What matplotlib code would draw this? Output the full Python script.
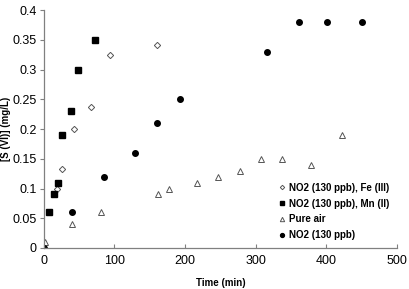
import numpy as np
import matplotlib.pyplot as plt

plt.rcParams['font.family'] = ['Liberation Sans', 'DejaVu Sans']

# NO2 (130 ppb), Fe (III)
fe_t = [18, 25, 43, 67, 94, 160]
fe_s = [0.10, 0.133, 0.20, 0.237, 0.324, 0.342]

# NO2 (130 ppb), Mn (II)
mn_t = [7, 14, 20, 26, 38, 48, 73]
mn_s = [0.06, 0.09, 0.11, 0.19, 0.23, 0.30, 0.35]

# Pure air
air_t = [1, 40, 81, 161, 177, 217, 247, 278, 307, 337, 378, 422]
air_s = [0.01, 0.04, 0.06, 0.09, 0.10, 0.11, 0.12, 0.13, 0.15, 0.15, 0.14, 0.19]

# NO2 (130 ppb)
no2_t = [0, 40, 85, 129, 160, 193, 316, 362, 401, 451]
no2_s = [0.0, 0.06, 0.12, 0.16, 0.21, 0.25, 0.33, 0.38, 0.38, 0.38]

fig = plt.figure(figsize=(4.1, 2.89), dpi=100)
ax = fig.add_axes([0.107, 0.142, 0.861, 0.823])

ax.plot(fe_t, fe_s, ls='none', marker='D', ms=3.2, mfc='white', mec='#555555',
        mew=0.7, label='NO2 (130 ppb), Fe (III)')
ax.plot(mn_t, mn_s, ls='none', marker='s', ms=5, color='black',
        label='NO2 (130 ppb), Mn (II)')
ax.plot(air_t, air_s, ls='none', marker='^', ms=4.5, mfc='white', mec='#555555',
        mew=0.7, label='Pure air')
ax.plot(no2_t, no2_s, ls='none', marker='o', ms=4, color='black',
        label='NO2 (130 ppb)')

ax.set_xlim(0, 500)
ax.set_ylim(0, 0.4)
ax.set_xticks(np.arange(0, 501, 100))
ax.set_yticks(np.arange(0, 0.41, 0.05))
ax.set_yticklabels(['0', '0.05', '0.1', '0.15', '0.2', '0.25', '0.3', '0.35', '0.4'])

for s in ['top', 'right']:
    ax.spines[s].set_visible(False)
for s in ['left', 'bottom']:
    ax.spines[s].set_color('#808080')
    ax.spines[s].set_linewidth(0.9)

ax.tick_params(axis='y', direction='out', length=3, color='#808080', labelsize=9, pad=2)
ax.tick_params(axis='x', direction='in', length=3, color='#808080', labelsize=9, pad=5)

ax.set_xlabel('Time (min)', fontsize=7, fontweight='bold', labelpad=8)
ax.set_ylabel('[S (VI)] (mg/L)', fontsize=7, fontweight='bold')
ax.yaxis.set_label_coords(-0.093, 0.5)

leg = ax.legend(loc='lower right', bbox_to_anchor=(1.0, 0.0), frameon=False,
                prop={'weight': 'bold', 'size': 7}, markerscale=0.7,
                handletextpad=0.2, handlelength=0.9, labelspacing=0.6,
                borderaxespad=0.4)

fig.savefig('out.png', dpi=100)
